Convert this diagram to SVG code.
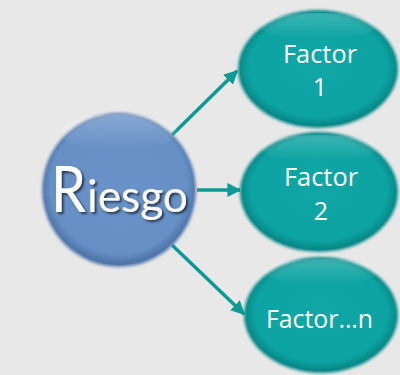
<svg xmlns="http://www.w3.org/2000/svg" width="400" height="375" viewBox="0 0 400 375">
<defs>
<radialGradient id="gBlue" cx="50%" cy="47%" r="52%">
<stop offset="0" stop-color="#6a92c8"/>
<stop offset="0.88" stop-color="#668fc5"/>
<stop offset="1" stop-color="#4f74a8"/>
</radialGradient>
<linearGradient id="hiBlue" x1="0" y1="0" x2="0" y2="1">
<stop offset="0" stop-color="#ffffff" stop-opacity="0.22"/>
<stop offset="1" stop-color="#ffffff" stop-opacity="0"/>
</linearGradient>
<radialGradient id="gTeal" cx="50%" cy="48%" r="52%">
<stop offset="0" stop-color="#0fa6a5"/>
<stop offset="0.85" stop-color="#0ca3a2"/>
<stop offset="1" stop-color="#078483"/>
</radialGradient>
<linearGradient id="hiTeal" x1="0" y1="0" x2="0" y2="1">
<stop offset="0" stop-color="#ffffff" stop-opacity="0.2"/>
<stop offset="1" stop-color="#ffffff" stop-opacity="0"/>
</linearGradient>
<filter id="blur" x="-10%" y="-10%" width="120%" height="120%"><feGaussianBlur stdDeviation="1.5"/></filter>
<filter id="tshadow" x="-10%" y="-10%" width="130%" height="130%"><feDropShadow dx="2" dy="2" stdDeviation="1" flood-color="#000" flood-opacity="0.6"/></filter>
<marker id="arr" viewBox="0 0 10 10" refX="9" refY="5" markerWidth="4" markerHeight="4" orient="auto" markerUnits="strokeWidth">
<path d="M0,0 L10,5 L0,10 Z" fill="#0d9994"/>
</marker>
</defs>
<style>
.conn{stroke:#0d9994;stroke-width:3.5;fill:none;marker-end:url(#arr)}
.ft{font-family:"Open Sans","Liberation Sans",sans-serif;font-size:25px;fill:#ffffff;text-anchor:middle}
</style>
<rect width="400" height="375" fill="#e8e8e8"/>
<g id="connectors">
<line class="conn" x1="172" y1="135" x2="237" y2="71"/>
<line class="conn" x1="197" y1="190" x2="240" y2="190"/>
<line class="conn" x1="172" y1="245" x2="244" y2="314"/>
</g>
<g id="riesgo">
<circle cx="119" cy="190" r="77" fill="#5a7fb0" filter="url(#blur)"/>
<circle cx="119" cy="190" r="75" fill="url(#gBlue)"/>
<ellipse cx="119" cy="132" rx="58" ry="18" fill="url(#hiBlue)"/>
<g filter="url(#tshadow)" fill="#ffffff" font-family="Lato,'Open Sans',sans-serif">
<text x="51" y="212" font-size="63" textLength="35" lengthAdjust="spacingAndGlyphs">R</text>
<text x="87" y="212" font-size="45" textLength="101" lengthAdjust="spacingAndGlyphs">iesgo</text>
</g>
</g>
<g id="factor1">
<ellipse cx="318" cy="69" rx="80" ry="59" fill="#0a8a8a" filter="url(#blur)"/>
<ellipse cx="318" cy="69" rx="78" ry="57" fill="url(#gTeal)"/>
<ellipse cx="318" cy="26" rx="58" ry="13" fill="url(#hiTeal)"/>
<text class="ft" x="320" y="63" textLength="74" lengthAdjust="spacingAndGlyphs">Factor</text>
<text class="ft" x="320" y="96">1</text>
</g>
<g id="factor2">
<ellipse cx="319" cy="192" rx="79" ry="60" fill="#0a8a8a" filter="url(#blur)"/>
<ellipse cx="319" cy="192" rx="77" ry="58" fill="url(#gTeal)"/>
<ellipse cx="319" cy="148" rx="58" ry="13" fill="url(#hiTeal)"/>
<text class="ft" x="321" y="186" textLength="74" lengthAdjust="spacingAndGlyphs">Factor</text>
<text class="ft" x="321" y="220">2</text>
</g>
<g id="factorn">
<ellipse cx="321" cy="315" rx="77" ry="58" fill="#0a8a8a" filter="url(#blur)"/>
<ellipse cx="321" cy="315" rx="75" ry="56" fill="url(#gTeal)"/>
<ellipse cx="321" cy="272" rx="56" ry="13" fill="url(#hiTeal)"/>
<text class="ft" x="319.5" y="328" font-size="23" textLength="107" lengthAdjust="spacingAndGlyphs">Factor…n</text>
</g>
</svg>
